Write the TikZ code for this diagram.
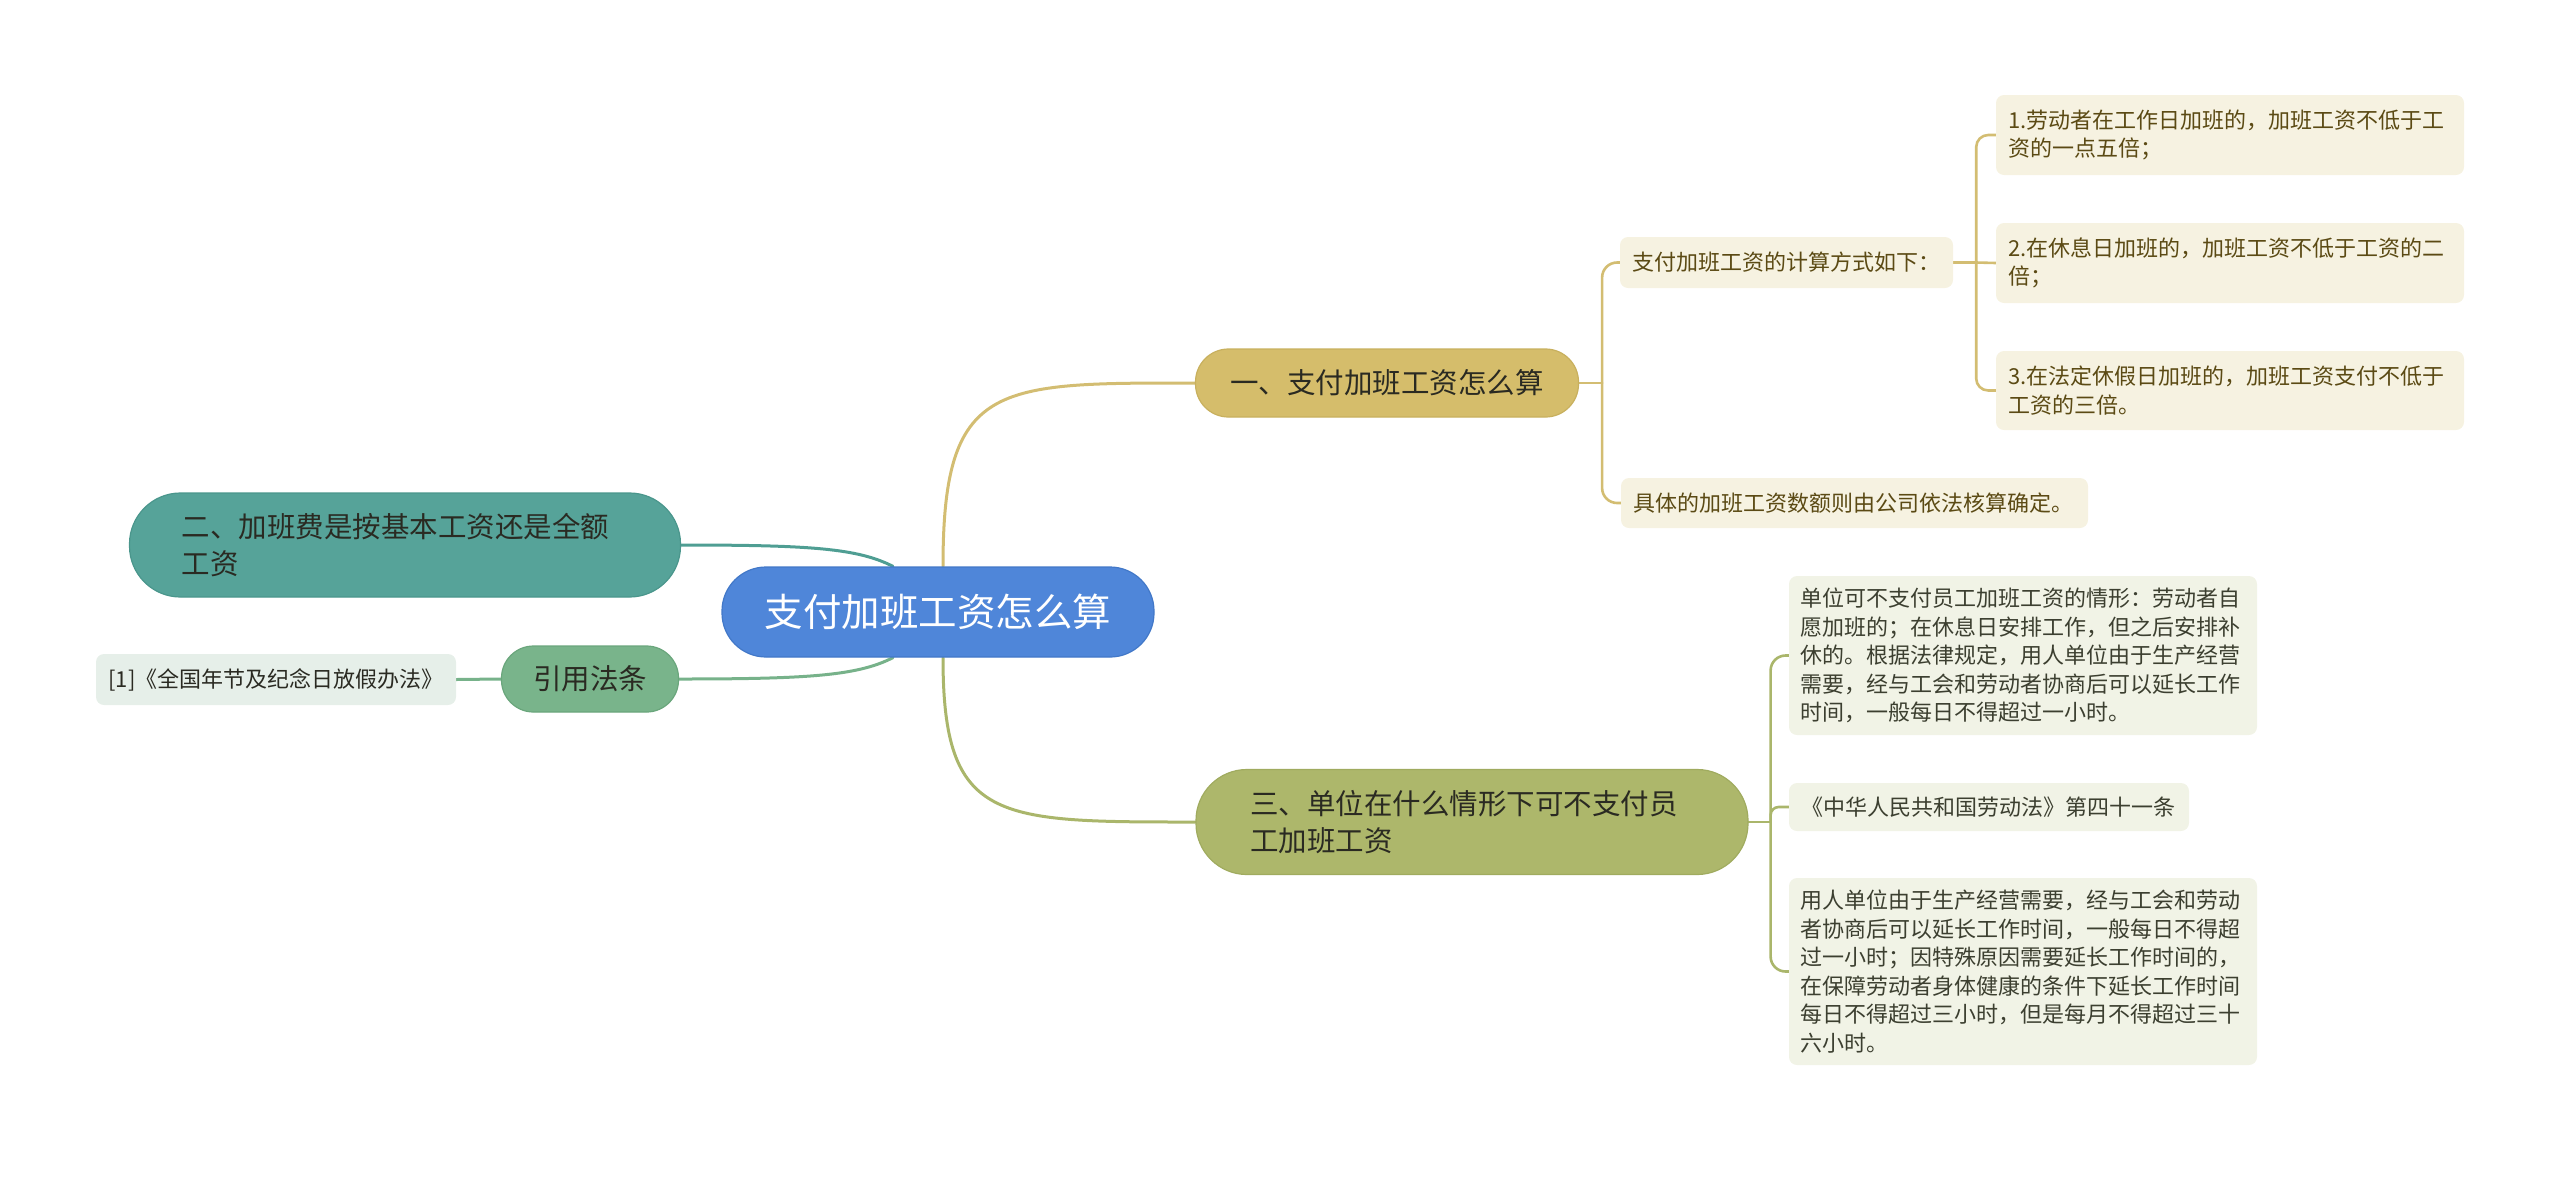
\documentclass[tikz,border=0pt]{standalone}
\usepackage{fontspec}
\newfontfamily\cjk{Noto Sans CJK SC}
\usetikzlibrary{backgrounds}
\definecolor{rootfill}{HTML}{4F86D9}
\definecolor{rootdraw}{HTML}{4278C8}
\definecolor{yfill}{HTML}{D5BD6B}
\definecolor{ydraw}{HTML}{C8B05E}
\definecolor{ofill}{HTML}{ADB76B}
\definecolor{odraw}{HTML}{A0AB5F}
\definecolor{tfill}{HTML}{56A399}
\definecolor{tdraw}{HTML}{4A968C}
\definecolor{gfill}{HTML}{79B48B}
\definecolor{gdraw}{HTML}{6AA67C}
\definecolor{ysub}{HTML}{F6F2E1}
\definecolor{osub}{HTML}{F1F3E6}
\definecolor{gsub}{HTML}{E6EFE9}
\definecolor{yline}{HTML}{D3BD72}
\definecolor{oline}{HTML}{AAB66B}
\definecolor{tline}{HTML}{4F9E93}
\definecolor{gline}{HTML}{77B28A}
\definecolor{ytext}{HTML}{5B4A14}
\definecolor{otext}{HTML}{3C3F30}
\definecolor{dtext}{HTML}{2A2A22}
\begin{document}
\begin{tikzpicture}[x=1pt,y=-1pt,
  rootbox/.style={draw=rootdraw, line width=1.2pt, fill=rootfill, rounded corners=44pt, inner sep=0pt,
    text=white, align=center, font=\cjk\fontsize{38.5}{46}\selectfont},
  lvbox/.style={line width=1.2pt, inner ysep=0pt, text=dtext, align=left,
    font=\cjk\fontsize{28.5}{37}\selectfont},
  subbox/.style={rounded corners=8pt, inner xsep=12pt, inner ysep=0pt, align=left,
    font=\cjk\fontsize{22}{28.5}\selectfont},
  ysubbox/.style={subbox, fill=ysub, text=ytext},
  osubbox/.style={subbox, fill=osub, text=otext},
  conn/.style={line width=3pt, line cap=round},
  sconn/.style={line width=2.6pt, line cap=round, rounded corners=15pt}
]
\useasboundingbox (0,0) rectangle (2560,1179);

% central
\node[rootbox, minimum width=432pt, minimum height=90pt] (root) at (938,612) {支付加班工资怎么算};

% level one
\node[lvbox, draw=ydraw, fill=yfill, rounded corners=33pt, minimum width=383pt, minimum height=68pt, inner xsep=0pt, align=center] (n1) at (1387,383) {一、支付加班工资怎么算};
\node[lvbox, draw=tdraw, fill=tfill, rounded corners=51pt, minimum height=104pt, inner xsep=52pt, text width=447pt] (n2) at (405,545) {二、加班费是按基本工资还是全额\\工资};
\node[lvbox, draw=gdraw, fill=gfill, rounded corners=32pt, minimum width=177pt, minimum height=66pt, inner xsep=0pt, align=center] (ref) at (590,679) {引用法条};
\node[lvbox, draw=odraw, fill=ofill, rounded corners=51pt, minimum height=105pt, inner xsep=54pt, text width=444pt] (n3) at (1472,822) {三、单位在什么情形下可不支付员\\工加班工资};

% sub nodes
\node[subbox, fill=gsub, text=dtext, minimum width=360pt, minimum height=51pt, inner xsep=0pt, align=center] (ref1) at (276,679.5) {[1]《全国年节及纪念日放假办法》};

\node[ysubbox, text width=309pt, minimum height=51pt] (s1) at (1786.5,262.5) {支付加班工资的计算方式如下：};
\node[ysubbox, text width=444pt, minimum height=80pt] (s1a) at (2230,135) {1.劳动者在工作日加班的，加班工资不低于工\\资的一点五倍；};
\node[ysubbox, text width=444pt, minimum height=80pt] (s1b) at (2230,263) {2.在休息日加班的，加班工资不低于工资的二\\倍；};
\node[ysubbox, text width=444pt, minimum height=79pt] (s1c) at (2230,390.5) {3.在法定休假日加班的，加班工资支付不低于\\工资的三倍。};
\node[ysubbox, text width=443pt, minimum height=50pt] (s2) at (1854.5,503) {具体的加班工资数额则由公司依法核算确定。};

\node[osubbox, text width=446pt, inner xsep=11pt, minimum height=159pt] (t1) at (2023,655.5) {单位可不支付员工加班工资的情形：劳动者自\\愿加班的；在休息日安排工作，但之后安排补\\休的。根据法律规定，用人单位由于生产经营\\需要，经与工会和劳动者协商后可以延长工作\\时间，一般每日不得超过一小时。};
\node[osubbox, text width=376pt, minimum height=48pt] (t2) at (1989,807) {《中华人民共和国劳动法》第四十一条};
\node[osubbox, text width=446pt, inner xsep=11pt, minimum height=187pt] (t3) at (2023,971.5) {用人单位由于生产经营需要，经与工会和劳动\\者协商后可以延长工作时间，一般每日不得超\\过一小时；因特殊原因需要延长工作时间的，\\在保障劳动者身体健康的条件下延长工作时间\\每日不得超过三小时，但是每月不得超过三十\\六小时。};

\begin{pgfonlayer}{background}
% root connectors
\draw[conn, yline] ([xshift=5pt]root.north) .. controls +(0,-185) and +(-200,0) .. (n1.west);
\draw[conn, oline] ([xshift=5pt]root.south) .. controls +(0,165) and +(-200,0) .. (n3.west);
\draw[conn, tline] ([xshift=-45pt]root.north) .. controls +(-35,-18) and +(130,0) .. (n2.east);
\draw[conn, gline] ([xshift=-45pt]root.south) .. controls +(-35,18) and +(130,0) .. (ref.east);
\draw[conn, gline] (ref.west) -- (ref1.east);

% branch one
\draw[sconn, yline] (n1.east) -- ++(23,0) coordinate (b1);
\draw[sconn, yline] (b1) |- (s1.west);
\draw[sconn, yline] (b1) |- (s2.west);
\draw[sconn, yline] (s1.east) -- ++(23,0) coordinate (bs);
\draw[sconn, yline, rounded corners=12pt] (bs) |- (s1a.west);
\draw[sconn, yline] (bs) -- (s1b.west);
\draw[sconn, yline, rounded corners=12pt] (bs) |- (s1c.west);

% branch three
\draw[sconn, oline] (n3.east) -- ++(22,0) coordinate (b3);
\draw[sconn, oline] (b3) |- (t1.west);
\draw[sconn, oline, rounded corners=8pt] (b3) |- (t2.west);
\draw[sconn, oline] (b3) |- (t3.west);
\end{pgfonlayer}
\end{tikzpicture}
\end{document}
